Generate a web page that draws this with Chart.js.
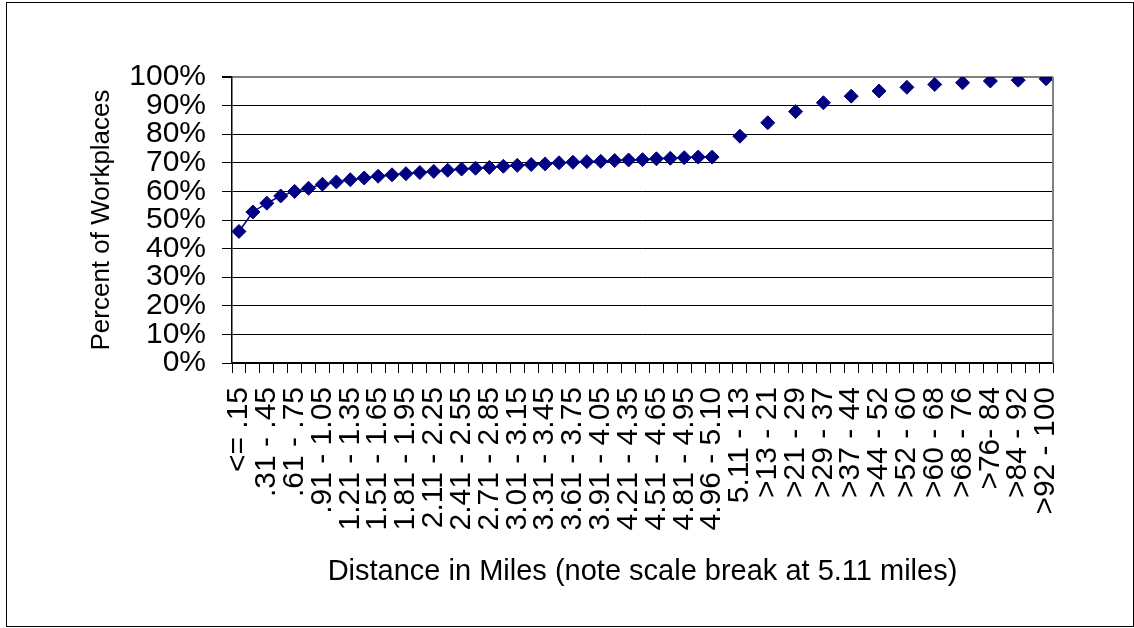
<!DOCTYPE html>
<html>
<head>
<meta charset="utf-8">
<script src="https://cdn.jsdelivr.net/npm/chart.js@4.4.1/dist/chart.umd.min.js"></script>
<style>
  body { margin: 0; background: #fff; }
  #frame { position: absolute; left: 6px; top: 2px; width: 1126px; height: 623px; border: 1px solid #000; }
  #chart { position: absolute; left: 0; top: 0; }
</style>
</head>
<body>
<div id="frame"></div>
<canvas id="chart" width="1134" height="628"></canvas>
<script>
// distance bins; odd slots after 5.10 are only spacers for the scale break
const categories = [
  '<= .15', '.16 - .30', '.31 - .45', '.46 - .60', '.61 - .75', '.76 - .90',
  '.91 - 1.05', '1.06 - 1.20', '1.21 - 1.35', '1.36 - 1.50', '1.51 - 1.65', '1.66 - 1.80',
  '1.81 - 1.95', '1.96 - 2.10', '2.11 - 2.25', '2.26 - 2.40', '2.41 - 2.55', '2.56 - 2.70',
  '2.71 - 2.85', '2.86 - 3.00', '3.01 - 3.15', '3.16 - 3.30', '3.31 - 3.45', '3.46 - 3.60',
  '3.61 - 3.75', '3.76 - 3.90', '3.91 - 4.05', '4.06 - 4.20', '4.21 - 4.35', '4.36 - 4.50',
  '4.51 - 4.65', '4.66 - 4.80', '4.81 - 4.95', '', '4.96 - 5.10',
  '', '5.11 - 13', '', '>13 - 21', '', '>21 - 29', '', '>29 - 37', '', '>37 - 44',
  '', '>44 - 52', '', '>52 - 60', '', '>60 - 68', '', '>68 - 76', '', '>76- 84',
  '', '>84 - 92', '', '>92 - 100'
];

const percentWorkplaces = [
  46.0, 52.8, 55.9, 58.4, 60.0, 61.1, 62.5, 63.3, 64.1, 64.7,
  65.3, 65.8, 66.2, 66.6, 67.0, 67.4, 67.8, 68.1, 68.4, 68.8,
  69.1, 69.4, 69.6, 70.0, 70.2, 70.4, 70.5, 70.8, 71.0, 71.1,
  71.4, 71.6, 71.8, 72.0, 72.0,
  null, 79.3, null, 84.0, null, 87.9, null, 91.0, null, 93.3,
  null, 95.1, null, 96.4, null, 97.4, null, 98.0, null, 98.6,
  null, 98.9, null, 99.4
];

const yTicks = [0, 10, 20, 30, 40, 50, 60, 70, 80, 90, 100];

const font = 'Liberation Sans, Arial, sans-serif';

const plotBorder = {
  id: 'plotBorder',
  afterDraw(chart) {
    const {ctx, chartArea: a} = chart;
    ctx.save();
    ctx.strokeStyle = '#808080';
    ctx.lineWidth = 2;
    ctx.beginPath();
    ctx.moveTo(a.right, a.top);
    ctx.lineTo(a.right, a.bottom);
    ctx.stroke();
    ctx.restore();
  }
};

new Chart(document.getElementById('chart'), {
  type: 'line',
  data: {
    labels: categories,
    datasets: [{
      data: percentWorkplaces,
      borderColor: '#000080',
      backgroundColor: '#000080',
      borderWidth: 1.5,
      pointStyle: 'rectRot',
      pointRadius: 7,
      pointBorderWidth: 1,
      spanGaps: false,
      fill: false
    }]
  },
  options: {
    responsive: false,
    animation: false,
    layout: { padding: { left: 86, top: 77, right: 81, bottom: 20 } },
    plugins: { legend: { display: false }, tooltip: { enabled: false } },
    scales: {
      x: {
        type: 'category',
        offset: true,
        afterFit: s => { s.height = 245; },
        grid: { offset: true, drawOnChartArea: false, drawTicks: true, tickLength: 10, color: '#000' },
        border: { color: '#000', width: 1.5 },
        ticks: {
          autoSkip: false,
          maxRotation: 90,
          minRotation: 90,
          padding: 14,
          color: '#000',
          font: { family: font, size: 30 },
          callback: (v, i) => i % 2 === 0 ? categories[i] : ''
        },
        title: {
          display: true,
          text: 'Distance in Miles (note scale break at 5.11 miles)',
          color: '#000',
          font: { family: font, size: 29 },
          padding: { top: 0, bottom: 19 }
        }
      },
      y: {
        min: 0,
        max: 100,
        afterFit: s => { s.width = 146; },
        afterBuildTicks: s => { s.ticks = yTicks.map(v => ({ value: v })); },
        grid: {
          color: c => c.tick && c.tick.value === 100 ? '#808080' : '#000',
          lineWidth: c => c.tick && c.tick.value === 100 ? 2 : 1,
          tickLength: 10,
          tickColor: '#000'
        },
        border: { color: '#000', width: 1.5 },
        ticks: {
          autoSkip: false,
          padding: 16,
          color: '#000',
          font: { family: font, size: 30 },
          callback: v => v + '%'
        },
        title: {
          display: true,
          text: 'Percent of Workplaces',
          color: '#000',
          font: { family: font, size: 26 },
          padding: { top: 0, bottom: 0 }
        }
      }
    }
  },
  plugins: [plotBorder]
});
</script>
</body>
</html>
